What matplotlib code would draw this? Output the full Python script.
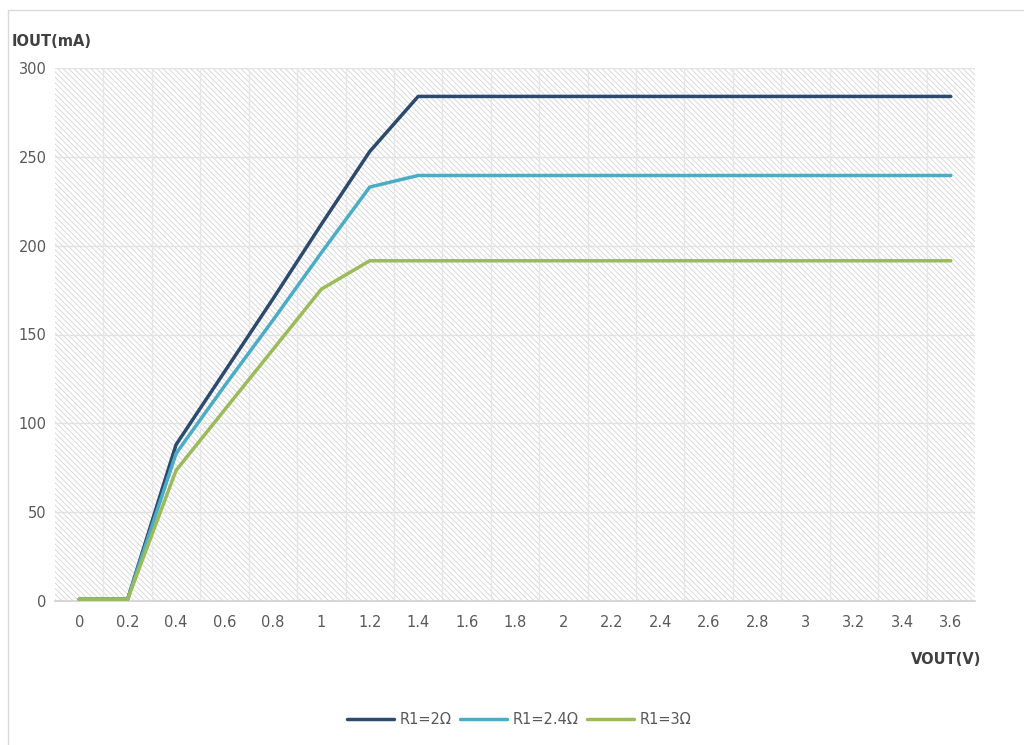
import numpy as np
import matplotlib.pyplot as plt
from matplotlib.patches import Rectangle

# category axis (VOUT in V)
vout_labels = ["0", "0.2", "0.4", "0.6", "0.8", "1", "1.2", "1.4", "1.6", "1.8",
               "2", "2.2", "2.4", "2.6", "2.8", "3", "3.2", "3.4", "3.6"]

# IOUT (mA) per series
iout_r2 = [1, 1, 88, 129, 170, 212, 253, 284, 284, 284,
           284, 284, 284, 284, 284, 284, 284, 284, 284]
iout_r24 = [1, 1, 83, 121, 158, 196, 233, 239.5, 239.5, 239.5,
            239.5, 239.5, 239.5, 239.5, 239.5, 239.5, 239.5, 239.5, 239.5]
iout_r3 = [1, 1, 73.5, 107.5, 141.5, 175.5, 191.5, 191.5, 191.5, 191.5,
           191.5, 191.5, 191.5, 191.5, 191.5, 191.5, 191.5, 191.5, 191.5]

series_names = ["R1=2\u03a9", "R1=2.4\u03a9", "R1=3\u03a9"]
series_colors = ["#2C4A6E", "#4BACC6", "#9BBB59"]

plt.rcParams['font.family'] = ['Liberation Sans Narrow', 'DejaVu Sans']
plt.rcParams['hatch.color'] = '#d4d4d4'
plt.rcParams['hatch.linewidth'] = 0.6

fig = plt.figure(figsize=(10.24, 7.45), dpi=100)
ax = fig.add_axes([55/1024, 1 - 601/745, 920/1024, 533/745])

# outer chart frame
fig.patches.append(Rectangle((8/1024, -0.01), 1.1, 1 - 10/745 + 0.01,
                             transform=fig.transFigure, fill=False,
                             edgecolor='#d9d9d9', lw=1.0))

x = np.arange(len(vout_labels))

# hatched plot area
ax.add_patch(Rectangle((-0.5, 0), len(vout_labels), 300, facecolor='white',
                       hatch='\\\\\\\\\\\\', edgecolor='#d4d4d4', lw=0, zorder=0))

# gridlines: horizontal at 50s, vertical between categories
for yv in range(50, 301, 50):
    ax.axhline(yv, color='#e2e2e2', lw=1.0, zorder=1)
for xv in np.arange(0.5, len(vout_labels) - 0.5, 1):
    ax.axvline(xv, color='#e6e6e6', lw=1.0, zorder=1)

for vals, name, col in zip([iout_r2, iout_r24, iout_r3], series_names, series_colors):
    ax.plot(x, vals, color=col, lw=2.5, label=name, zorder=3, solid_capstyle='round')

ax.set_xlim(-0.5, len(vout_labels) - 0.5)
ax.set_ylim(0, 300)
ax.set_xticks(x)
ax.set_xticklabels(vout_labels)
ax.set_yticks(range(0, 301, 50))
ax.tick_params(length=0, labelsize=10.5, colors='#595959')
ax.tick_params(axis='x', pad=10)
ax.tick_params(axis='y', pad=6)

for s in ['top', 'right', 'left']:
    ax.spines[s].set_visible(False)
ax.spines['bottom'].set_color('#d0d0d0')
ax.spines['bottom'].set_linewidth(1.2)

fig.text(12/1024, 1 - 42/745, "IOUT(mA)", fontsize=10.5, fontweight='bold',
         color='#404040', ha='left', va='center')
fig.text(946/1024, 1 - 660/745, "VOUT(V)", fontsize=10.5, fontweight='bold',
         color='#404040', ha='center', va='center')

fig.legend(loc='center', bbox_to_anchor=(0.507, 1 - 720/745), ncol=3, frameon=False,
           fontsize=10.5, handlelength=3.2, columnspacing=0.6, handletextpad=0.4,
           labelcolor='#595959')

fig.savefig("out.png", dpi=100)
